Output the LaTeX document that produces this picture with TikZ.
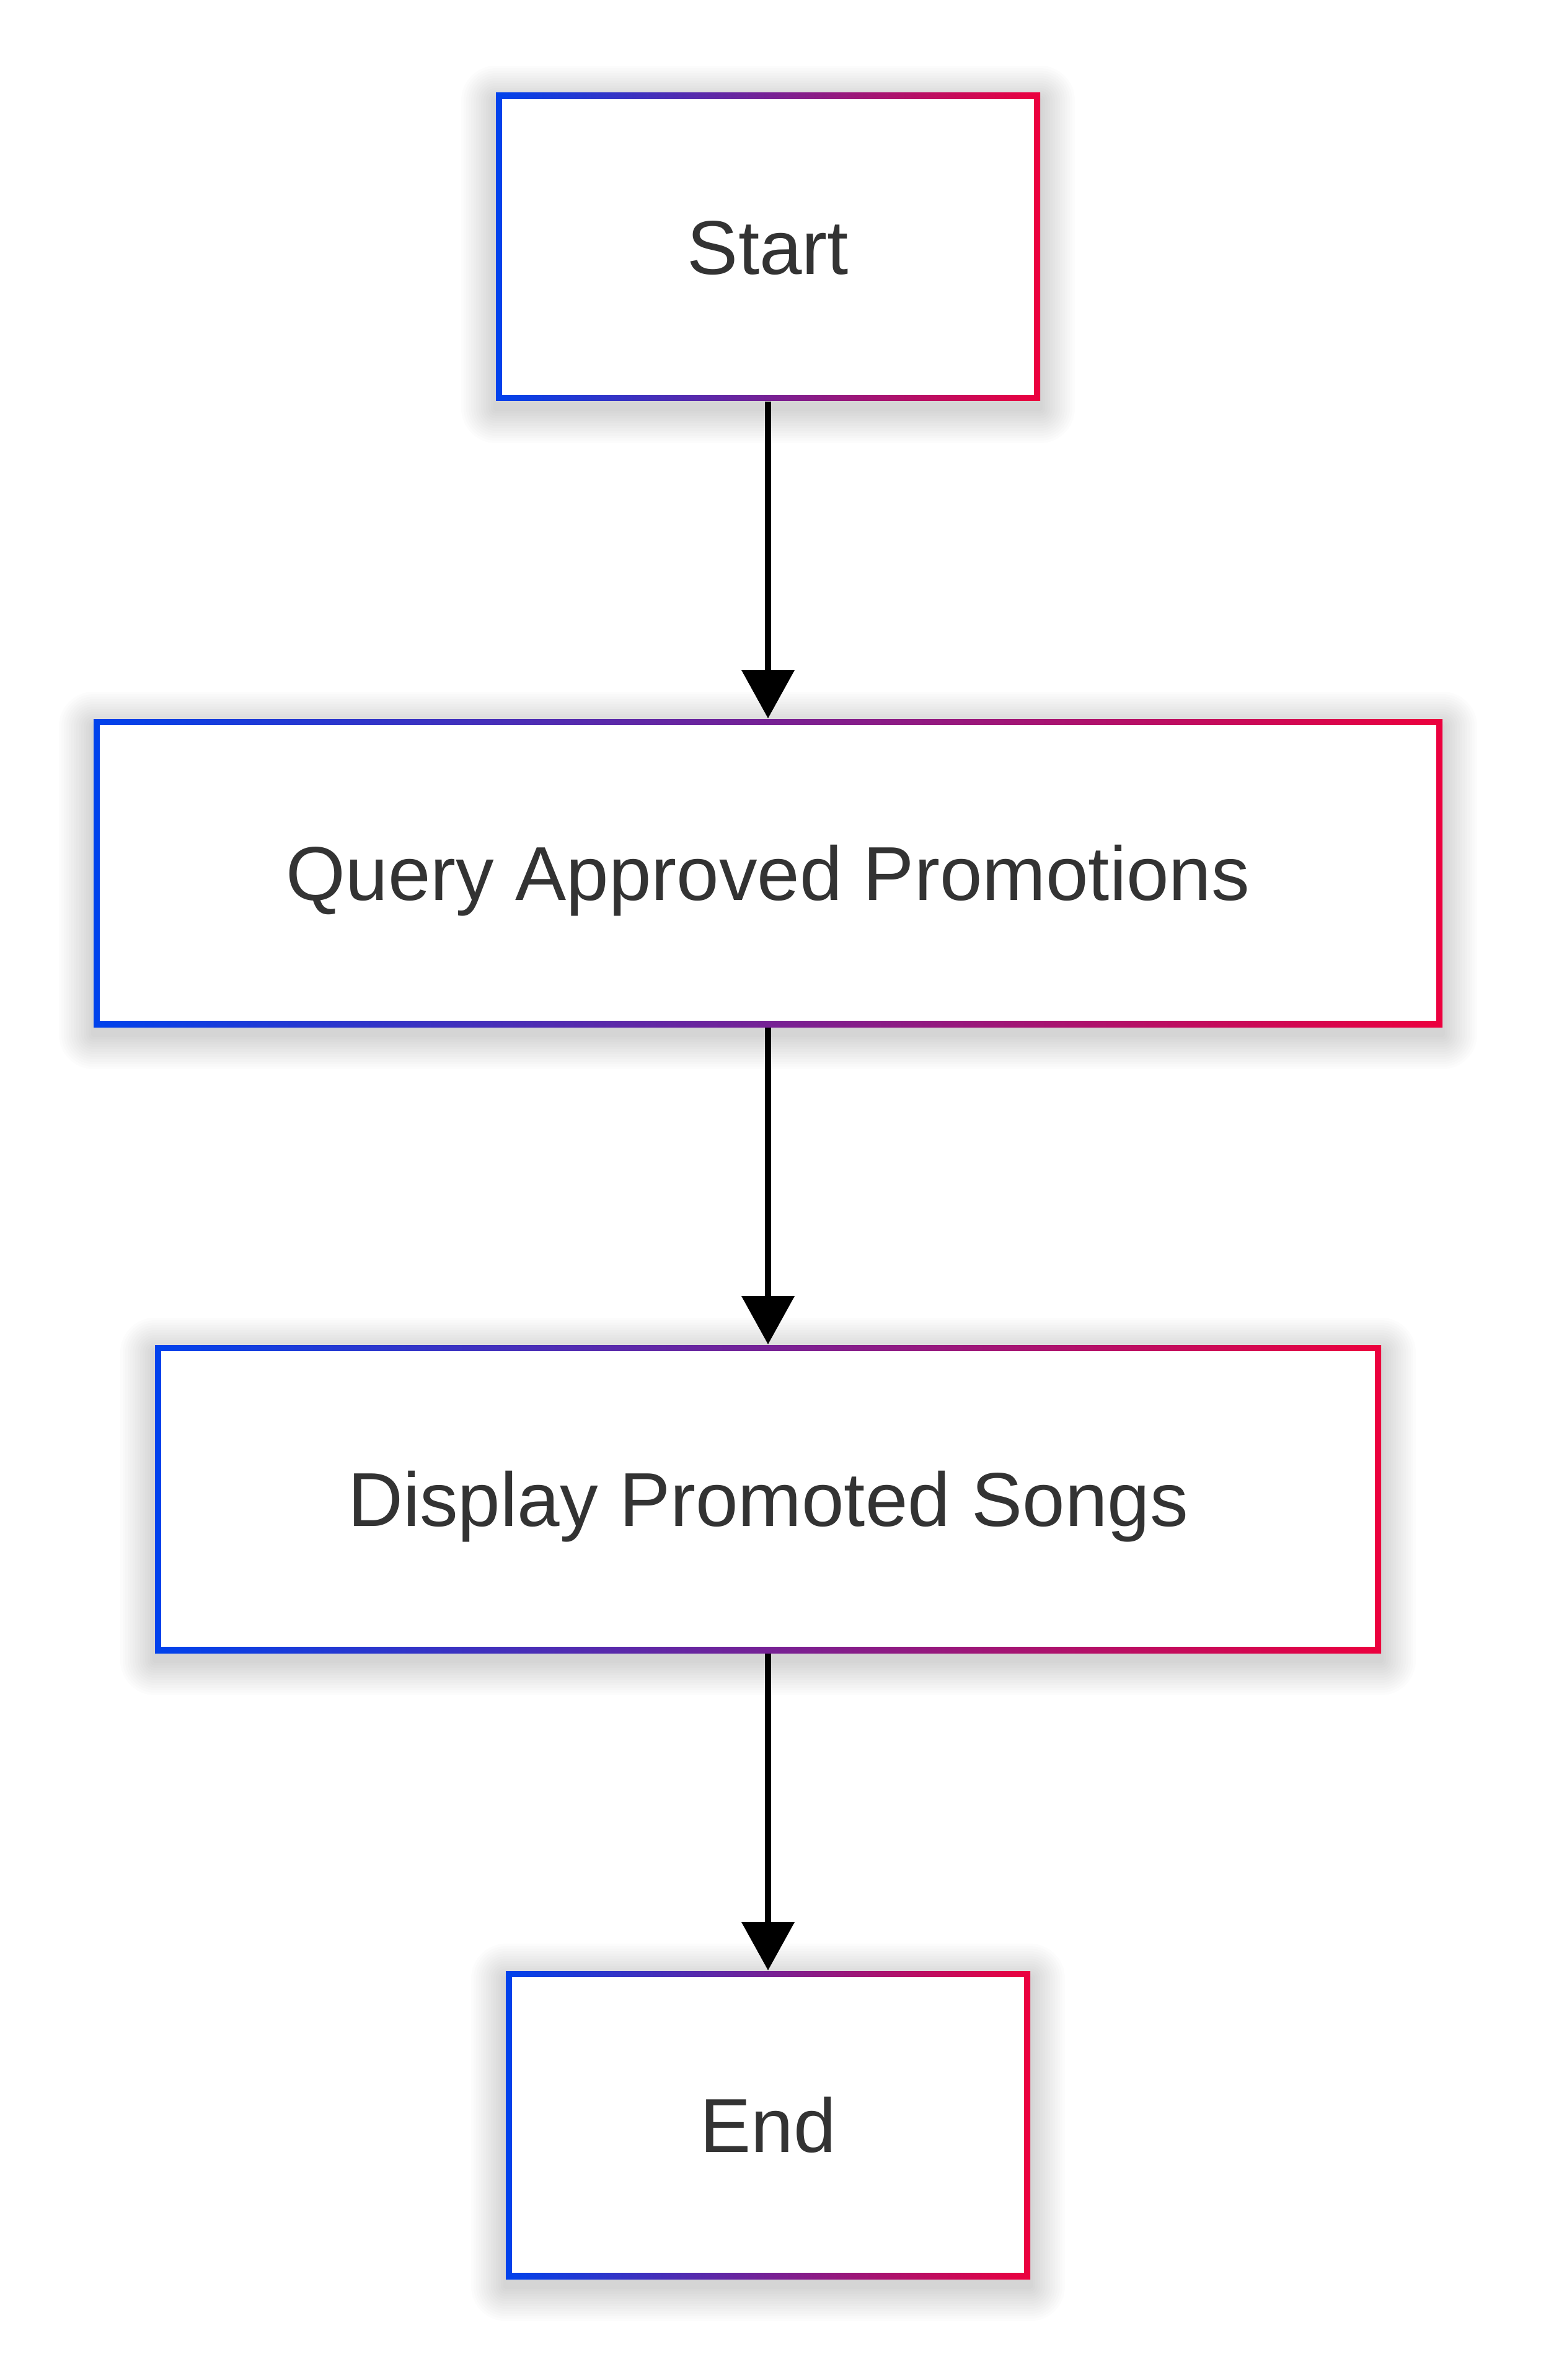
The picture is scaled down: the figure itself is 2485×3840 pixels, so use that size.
\documentclass[tikz,border=0pt]{standalone}
\usepackage{fontspec}
\setmainfont{Liberation Sans}
\usetikzlibrary{arrows.meta}
\definecolor{gblue}{RGB}{0,66,236}
\definecolor{gred}{RGB}{236,0,62}
\definecolor{txt}{RGB}{51,51,51}
\tikzset{
  boxnode/.style={rectangle, inner sep=0pt, minimum height=124.25pt,
    font=\fontsize{30.8pt}{37pt}\selectfont, text=txt, text height=22pt, text depth=0pt},
  flowarrow/.style={draw=black, line width=2.6pt,
    -{Triangle[length=19.5pt, width=20.75pt]}},
}
% #1 name, #2 x1, #3 y1, #4 x2, #5 y2, #6 text  (pixel coordinates)
\newcommand\gradbox[6]{%
  \foreach \i in {1,...,14}{%
    \pgfmathsetmacro\dd{\i*4}%
    \fill[black, opacity=0.011, rounded corners=\dd*0.25pt]
      ({#2-\dd},{#3-\dd+12}) rectangle ({#4+\dd},{#5+\dd+12});
  }%
  \shade[left color=gblue, right color=gred] (#2,#3) rectangle (#4,#5);
  \fill[white] ({#2+10},{#3+10}) rectangle ({#4-10},{#5-10});
  \pgfmathsetmacro\ww{(#4-#2)*0.25}%
  \node[boxnode, minimum width=\ww pt] (#1) at ({(#2+#4)/2},{(#3+#5)/2}) {#6};
}
\begin{document}
\begin{tikzpicture}[x=0.25pt,y=-0.25pt]
  \fill[white] (0,0) rectangle (2485,3840);
  \useasboundingbox (0,0) rectangle (2485,3840);
  \gradbox{start}{800}{150}{1678}{647}{Start}
  \gradbox{query}{151}{1160}{2327}{1657}{Query Approved Promotions}
  \gradbox{display}{250}{2170}{2228}{2667}{Display Promoted Songs}
  \gradbox{end}{816}{3180}{1662}{3677}{End}
  \draw[flowarrow] (start) -- (query);
  \draw[flowarrow] (query) -- (display);
  \draw[flowarrow] (display) -- (end);
\end{tikzpicture}
\end{document}
